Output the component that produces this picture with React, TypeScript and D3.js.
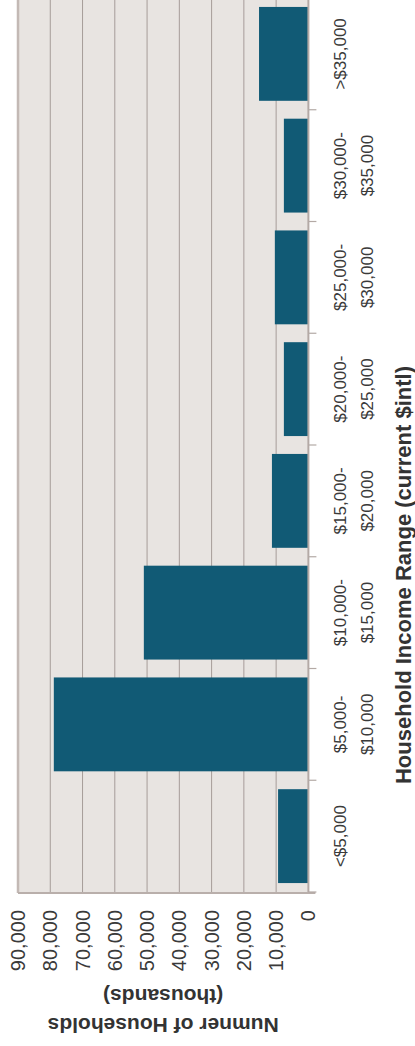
import * as d3 from "d3";

const categories = [
  "<$5,000",
  "$5,000-$10,000",
  "$10,000-$15,000",
  "$15,000-$20,000",
  "$20,000-$25,000",
  "$25,000-$30,000",
  "$30,000-$35,000",
  ">$35,000",
];
const households = [9400, 78900, 51000, 11300, 7600, 10400, 7600, 15300];
const valueTicks = [0, 10000, 20000, 30000, 40000, 50000, 60000, 70000, 80000, 90000];
const xTitle = "Household Income Range (current $intl)";
const yTitle = ["Numner of Households", "(thousands)"];

const W = 415;
const H = 1046;
const FONT = "'Liberation Sans', Arial, Helvetica, sans-serif";

// chart is laid out as a normal column chart, then turned -90deg
const App = () => {
  const x = d3.scaleBand<string>().domain(categories).range([154, 1048]).paddingInner(0.16).paddingOuter(0.08);
  const y = d3.scaleLinear().domain([0, 90000]).range([308.4, 18]);
  const fmt = d3.format(",");
  const step = x.step();
  const [x0, x1] = x.range();

  const splitLabel = (c: string) => {
    const i = c.indexOf("-");
    return i > 0 ? [c.slice(0, i + 1), c.slice(i + 1)] : [c];
  };

  return (
    <svg width={W} height={H} style={{ position: "absolute", left: 0, top: 0, background: "#fff" }}>
      <g transform={`translate(0,${H}) rotate(-90)`} fontFamily={FONT}>
        <rect x={x0} y={y(90000)} width={x1 - x0} height={y(0) - y(90000)} fill="#e8e4e1" />
        {valueTicks.slice(1, -1).map((t) => (
          <line key={t} x1={x0} x2={x1} y1={y(t)} y2={y(t)} stroke="#a69c99" strokeWidth={1} />
        ))}
        {/* frame */}
        <line x1={x0 - 1} x2={x1} y1={y(90000)} y2={y(90000)} stroke="#c3b9b5" strokeWidth={2.5} />
        <line x1={x0 - 1} x2={x0 - 1} y1={y(90000)} y2={y(0) + 7} stroke="#b9afab" strokeWidth={2.2} />
        {households.map((v, i) => (
          <rect
            key={categories[i]}
            x={x(categories[i])}
            y={y(v)}
            width={x.bandwidth()}
            height={y(0) - y(v)}
            fill="#115a75"
          />
        ))}
        {/* category axis */}
        <line x1={x0} x2={x1} y1={y(0)} y2={y(0)} stroke="#b3a9a5" strokeWidth={2} />
        {d3.range(categories.length + 1).map((i) => (
          <line key={i} x1={x0 + i * step} x2={x0 + i * step} y1={y(0)} y2={y(0) + 8} stroke="#b3a9a5" strokeWidth={1.2} />
        ))}
        {categories.map((c) => (
          <text key={c} x={(x(c) as number) + x.bandwidth() / 2} textAnchor="middle" fontSize={17} fill="#3a3a3a">
            {splitLabel(c).map((ln, j) => (
              <tspan key={j} x={(x(c) as number) + x.bandwidth() / 2} y={346 + j * 27}>
                {ln}
              </tspan>
            ))}
          </text>
        ))}
        {/* value labels */}
        {valueTicks.map((t) => (
          <text key={t} x={136} y={y(t)} textAnchor="end" dominantBaseline="central" fontSize={20} fill="#3a3a3a">
            {fmt(t)}
          </text>
        ))}
        {yTitle.map((s, j) => (
          <text
            key={s}
            transform={`translate(${21 + j * 29},${(y(0) + y(90000)) / 2}) rotate(-90)`}
            textAnchor="middle"
            dominantBaseline="central"
            fontSize={21}
            fontWeight="bold"
            fill="#333"
          >
            {s}
          </text>
        ))}
        <text x={H - 575} y={403} textAnchor="middle" dominantBaseline="central" fontSize={22} fontWeight="bold" fill="#333">
          {xTitle}
        </text>
      </g>
    </svg>
  );
};

export default App;
